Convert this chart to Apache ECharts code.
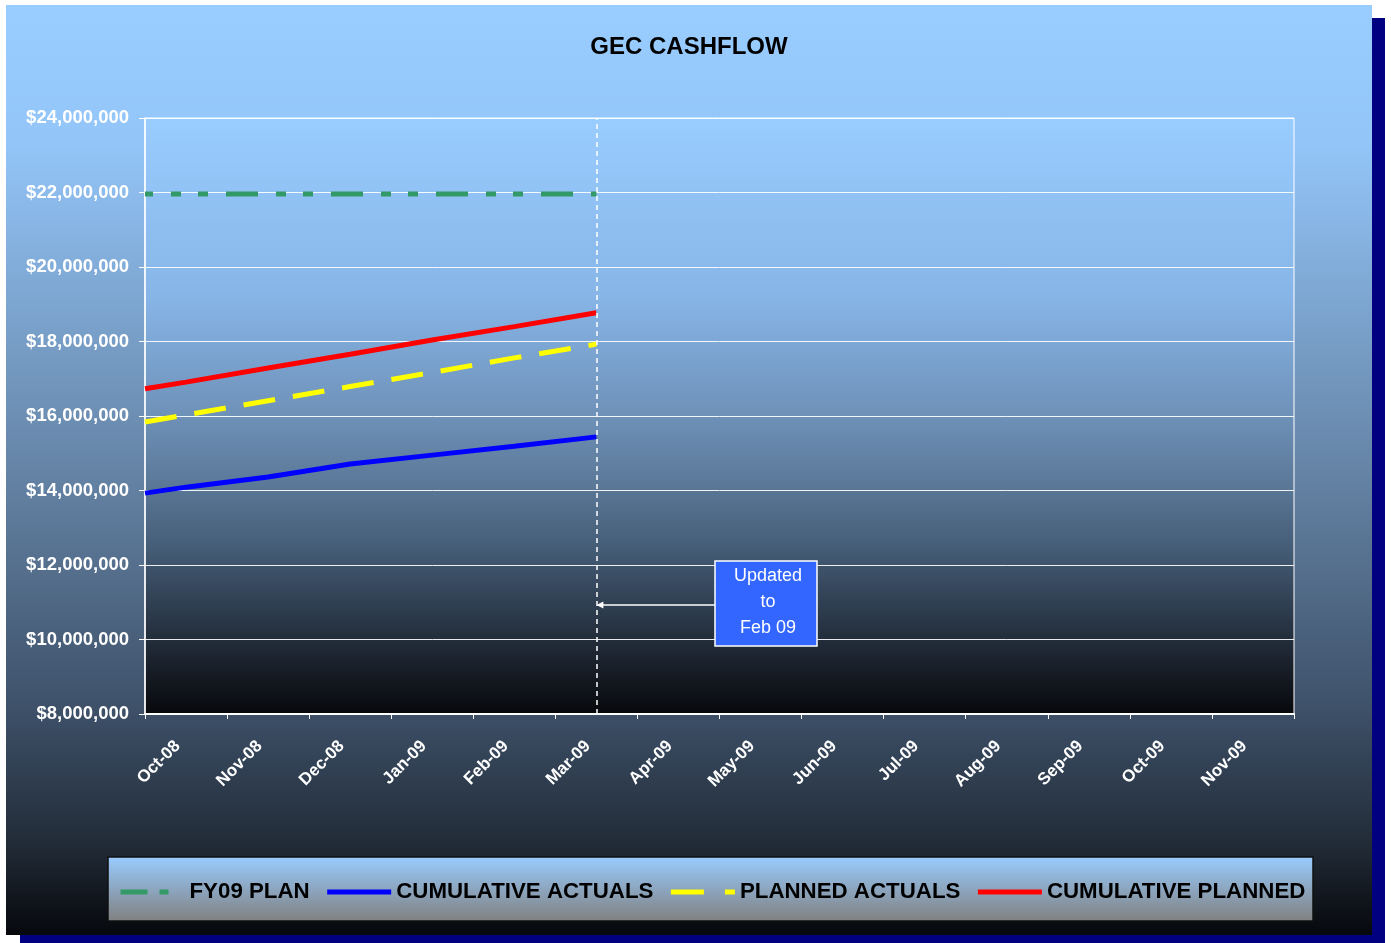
<!DOCTYPE html>
<html>
<head>
<meta charset="utf-8">
<style>
  html, body { margin: 0; padding: 0; background: #fff; }
  #chart { width: 1391px; height: 943px; }
</style>
</head>
<body>
<div id="chart"></div>
<script src="https://cdn.jsdelivr.net/npm/echarts@6/dist/echarts.min.js"></script>
<script>
// month categories on the x axis
var months = ['Oct-08', 'Nov-08', 'Dec-08', 'Jan-09', 'Feb-09', 'Mar-09', 'Apr-09',
              'May-09', 'Jun-09', 'Jul-09', 'Aug-09', 'Sep-09', 'Oct-09', 'Nov-09'];
// where each reading sits, in months from the Oct-08 tick
var pointPos = [0, 0.5, 1.5, 2.5, 3.5, 4.5, 5.5];
var fy09Plan = [21960000, 21960000, 21960000, 21960000, 21960000, 21960000, 21960000];
var cumulativeActuals = [13930000, 14090000, 14360000, 14710000, 14950000, 15190000, 15440000];
var plannedActuals = [15840000, 16030000, 16410000, 16790000, 17170000, 17560000, 17930000];
var cumulativePlanned = [16730000, 16910000, 17290000, 17660000, 18040000, 18400000, 18770000];
var updatedPos = 5.5;   // "Updated to Feb 09" cut-off
var yMin = 8000000, yMax = 24000000, yStep = 2000000;

var FONT = '"Liberation Sans", Arial, sans-serif';

var pairs = function(vals) {
  return vals.map(function(v, i) { return [pointPos[i], v]; });
};
var money = function(v) {
  return '$' + String(v).replace(/\B(?=(\d{3})+(?!\d))/g, ',');
};

var chart = echarts.init(document.getElementById('chart'));

var option = {
  backgroundColor: '#fff',
  animation: false,
  title: {
    text: 'GEC CASHFLOW',
    left: 684, top: 30, textAlign: 'center',
    textStyle: { fontFamily: FONT, fontSize: 24, fontWeight: 'bold', color: '#000' }
  },
  grid: {
    left: 145, top: 118, right: 97, bottom: 229,
    show: true,
    borderColor: '#fff', borderWidth: 1,
    backgroundColor: new echarts.graphic.LinearGradient(0, 0, 0, 1, [
      { offset: 0, color: '#99ccff' },
      { offset: 0.3, color: '#87b5e7' },
      { offset: 0.5, color: '#6e91b8' },
      { offset: 0.62, color: '#5a7796' },
      { offset: 0.72, color: '#455d77' },
      { offset: 0.9, color: '#1d2531' },
      { offset: 1, color: '#07080b' }
    ])
  },
  legend: {
    left: 113, top: 876,
    itemWidth: 64, itemHeight: 14, itemGap: 15,
    itemStyle: { opacity: 0 },
    lineStyle: { width: 5, cap: 'butt' },
    textStyle: { fontFamily: FONT, fontSize: 22.3, fontWeight: 'bold', color: '#000' },
    data: [
      { name: 'FY09 PLAN', lineStyle: { type: [27, 12, 9, 100], dashOffset: 0 } },
      { name: 'CUMULATIVE ACTUALS' },
      { name: 'PLANNED ACTUALS', lineStyle: { type: [33, 21], dashOffset: 0 } },
      { name: 'CUMULATIVE PLANNED' }
    ]
  },
  xAxis: [{
    type: 'category',
    data: months,
    boundaryGap: true,
    axisLine: { lineStyle: { color: '#fff', width: 2 } },
    axisTick: { show: true, length: 5, lineStyle: { color: '#fff' } },
    axisLabel: {
      rotate: 45, margin: 21, interval: 0, padding: [0, 12, 0, 0],
      color: '#fff', fontFamily: FONT, fontSize: 17, fontWeight: 'bold'
    },
    splitLine: { show: false }
  }, {
    type: 'value', min: 0, max: months.length, show: false
  }],
  yAxis: {
    type: 'value',
    min: yMin, max: yMax, interval: yStep,
    axisLine: { show: true, lineStyle: { color: '#fff', width: 1.5 } },
    axisTick: { show: true, inside: false, length: 6, lineStyle: { color: '#fff' } },
    axisLabel: {
      margin: 16, formatter: money,
      color: '#fff', fontFamily: FONT, fontSize: 18.5, fontWeight: 'bold'
    },
    splitLine: { lineStyle: { color: 'rgba(255,255,255,0.9)', width: 1 } }
  },
  series: [{
    name: 'FY09 PLAN', type: 'line', xAxisIndex: 1, symbol: 'none',
    data: pairs(fy09Plan),
    lineStyle: { color: '#339966', width: 5, type: [32, 18, 10, 17, 10, 18], dashOffset: 24, cap: 'butt' },
    itemStyle: { color: '#339966' }
  }, {
    name: 'CUMULATIVE ACTUALS', type: 'line', xAxisIndex: 1, symbol: 'none',
    data: pairs(cumulativeActuals),
    lineStyle: { color: '#0000ff', width: 5 },
    itemStyle: { color: '#0000ff' },
    markLine: {
      silent: true, symbol: 'none',
      label: { show: false },
      lineStyle: { color: '#fff', width: 1.5, type: [5, 4] },
      data: [{ xAxis: updatedPos }]
    }
  }, {
    name: 'PLANNED ACTUALS', type: 'line', xAxisIndex: 1, symbol: 'none',
    data: pairs(plannedActuals),
    lineStyle: { color: '#ffff00', width: 5, type: [32, 18], cap: 'butt' },
    itemStyle: { color: '#ffff00' }
  }, {
    name: 'CUMULATIVE PLANNED', type: 'line', xAxisIndex: 1, symbol: 'none',
    data: pairs(cumulativePlanned),
    lineStyle: { color: '#ff0000', width: 5 },
    itemStyle: { color: '#ff0000' }
  }]
};
chart.setOption(option);

// panel, drop shadow, legend box and the "Updated" note
var cutX = chart.convertToPixel({ xAxisIndex: 1 }, updatedPos);
chart.setOption({
  graphic: [{
    type: 'rect', z: -20, silent: true,
    shape: { x: 20, y: 18, width: 1365, height: 925 },
    style: { fill: '#000080' }
  }, {
    type: 'rect', z: -19, silent: true,
    shape: { x: 6, y: 5, width: 1366, height: 930 },
    style: {
      fill: new echarts.graphic.LinearGradient(0, 0, 0, 1, [
        { offset: 0, color: '#99ccff' },
        { offset: 0.15, color: '#93c5f8' },
        { offset: 0.5, color: '#6584a6' },
        { offset: 0.76, color: '#3d5068' },
        { offset: 0.9, color: '#222c38' },
        { offset: 1, color: '#06080c' }
      ])
    }
  }, {
    type: 'rect', z: -18, silent: true,
    shape: { x: 108, y: 857, width: 1205, height: 64 },
    style: {
      fill: new echarts.graphic.LinearGradient(0, 0, 0, 1, [
        { offset: 0, color: '#99ccff' },
        { offset: 1, color: '#808080' }
      ]),
      stroke: '#111', lineWidth: 1.5
    }
  }, {
    type: 'line', z: 100, silent: true,
    shape: { x1: 715, y1: 605, x2: cutX + 2, y2: 605 },
    style: { stroke: '#fff', lineWidth: 1.5 }
  }, {
    type: 'polygon', z: 100, silent: true,
    shape: { points: [[cutX, 605], [cutX + 7, 601.5], [cutX + 7, 608.5]] },
    style: { fill: '#fff' }
  }, {
    type: 'rect', z: 100, silent: true,
    shape: { x: 715, y: 561, width: 102, height: 85 },
    style: { fill: '#3366ff', stroke: '#fff', lineWidth: 1.5 }
  }, {
    type: 'text', z: 101, silent: true,
    x: 768, y: 563,
    style: {
      text: 'Updated\nto\nFeb 09',
      fill: '#fff', font: '18px ' + FONT,
      align: 'center', verticalAlign: 'top', lineHeight: 26
    }
  }]
});
</script>
</body>
</html>
